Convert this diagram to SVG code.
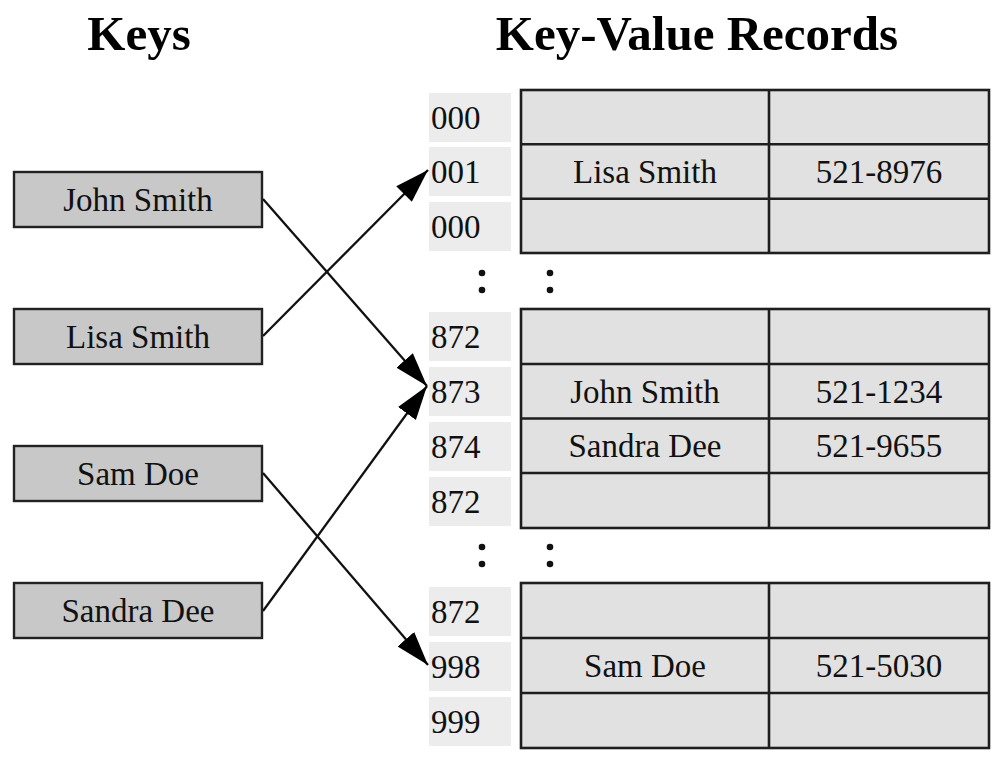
<svg xmlns="http://www.w3.org/2000/svg" width="1006" height="766" viewBox="0 0 1006 766">
<style>
.title{font-family:"Liberation Serif","Times New Roman",serif;font-weight:bold;font-size:49px;fill:#000;text-anchor:middle}
.t{font-family:"Liberation Serif","Times New Roman",serif;font-size:33px;fill:#111}
.c{text-anchor:middle}
.key{fill:#c8c8c8;stroke:#222;stroke-width:2.4}
.idx{fill:#ececec;stroke:none}
.cell{fill:#e1e1e1;stroke:#1e1e1e;stroke-width:2.6}
.grid{stroke:#1e1e1e;stroke-width:2.6;fill:none}
.dot{fill:#111}
.con{stroke:#111;stroke-width:2.3;fill:none;marker-end:url(#ah)}
</style>
<defs>
<marker id="ah" viewBox="0 0 34 22" refX="34" refY="11" markerWidth="34" markerHeight="22" markerUnits="userSpaceOnUse" orient="auto">
<path d="M0,0 L34,11 L0,22 Z" fill="#000"/>
</marker>
</defs>
<rect width="1006" height="766" fill="#fff"/>
<text class="title" x="139" y="50">Keys</text>
<text class="title" x="697" y="50">Key-Value Records</text>

<g id="key-john">
<rect class="key" x="14" y="172" width="248" height="55"/>
<text class="t c" x="138" y="211">John Smith</text>
</g>
<g id="key-lisa">
<rect class="key" x="14" y="309" width="248" height="55"/>
<text class="t c" x="138" y="348">Lisa Smith</text>
</g>
<g id="key-sam">
<rect class="key" x="14" y="446" width="248" height="55"/>
<text class="t c" x="138" y="485">Sam Doe</text>
</g>
<g id="key-sandra">
<rect class="key" x="14" y="583" width="248" height="55"/>
<text class="t c" x="138" y="622">Sandra Dee</text>
</g>

<g id="index">
<rect class="idx" x="429" y="93" width="82" height="49"/>
<rect class="idx" x="429" y="147" width="82" height="49"/>
<rect class="idx" x="429" y="202" width="82" height="49"/>
<rect class="idx" x="429" y="312" width="82" height="49"/>
<rect class="idx" x="429" y="367" width="82" height="49"/>
<rect class="idx" x="429" y="422" width="82" height="49"/>
<rect class="idx" x="429" y="477" width="82" height="49"/>
<rect class="idx" x="429" y="587" width="82" height="49"/>
<rect class="idx" x="429" y="642" width="82" height="49"/>
<rect class="idx" x="429" y="697" width="82" height="49"/>
<text class="t" x="431" y="129">000</text>
<text class="t" x="431" y="183">001</text>
<text class="t" x="431" y="238">000</text>
<text class="t" x="431" y="348">872</text>
<text class="t" x="431" y="403">873</text>
<text class="t" x="431" y="458">874</text>
<text class="t" x="431" y="513">872</text>
<text class="t" x="431" y="623">872</text>
<text class="t" x="431" y="678">998</text>
<text class="t" x="431" y="733">999</text>
</g>

<g id="ellipsis">
<circle class="dot" cx="482" cy="273" r="3.3"/>
<circle class="dot" cx="482" cy="290" r="3.3"/>
<circle class="dot" cx="550" cy="273" r="3.3"/>
<circle class="dot" cx="550" cy="290" r="3.3"/>
<circle class="dot" cx="482" cy="547" r="3.3"/>
<circle class="dot" cx="482" cy="564" r="3.3"/>
<circle class="dot" cx="550" cy="547" r="3.3"/>
<circle class="dot" cx="550" cy="564" r="3.3"/>
</g>

<g id="table1">
<rect class="cell" x="521" y="90" width="468" height="163"/>
<path class="grid" d="M521,144.3H989M521,198.7H989M769,90V253"/>
<text class="t c" x="645" y="183">Lisa Smith</text>
<text class="t c" x="879" y="183">521-8976</text>
</g>
<g id="table2">
<rect class="cell" x="521" y="309" width="468" height="219"/>
<path class="grid" d="M521,364H989M521,418.5H989M521,473H989M769,309V528"/>
<text class="t c" x="645" y="403">John Smith</text>
<text class="t c" x="879" y="403">521-1234</text>
<text class="t c" x="645" y="457">Sandra Dee</text>
<text class="t c" x="879" y="457">521-9655</text>
</g>
<g id="table3">
<rect class="cell" x="521" y="583" width="468" height="165"/>
<path class="grid" d="M521,638H989M521,693H989M769,583V748"/>
<text class="t c" x="645" y="677">Sam Doe</text>
<text class="t c" x="879" y="677">521-5030</text>
</g>

<g id="connectors">
<line class="con" x1="263" y1="199" x2="427" y2="386"/>
<line class="con" x1="263" y1="336" x2="428" y2="170"/>
<line class="con" x1="263" y1="473" x2="428" y2="665"/>
<line class="con" x1="263" y1="611" x2="427" y2="386"/>
</g>
</svg>
